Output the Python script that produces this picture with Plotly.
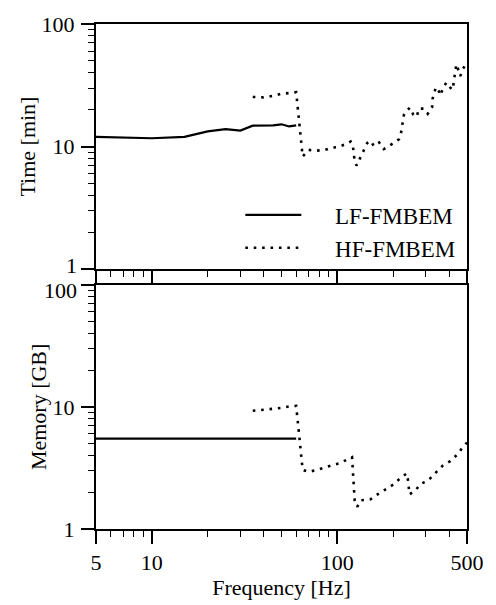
import plotly.graph_objects as go

# Frequency axis samples [Hz] and measured quantities
freq_lf_time = [5, 10, 15, 20, 25, 30, 35, 40, 45, 50, 55, 60]
time_lf = [12.0, 11.7, 12.0, 13.3, 13.9, 13.5, 14.8, 14.8, 14.9, 15.2, 14.6, 14.9]

freq_hf_time = [35, 40, 45, 50, 55, 60, 65, 70, 77, 86, 93, 100, 110, 118, 121, 124,
                127, 133, 139, 145, 152, 157, 168, 178, 193, 204, 215, 222, 225, 229,
                239, 246, 257, 268, 275, 292, 307, 324, 326, 334, 340, 353, 360, 371,
                387, 404, 419, 425, 430, 438, 451, 460, 476, 488, 500]
time_hf = [25.4, 25.2, 25.9, 27.0, 27.3, 27.8, 8.3, 9.4, 9.25, 9.4, 9.8, 9.9, 10.4,
           11.0, 10.4, 7.6, 7.0, 8.05, 9.3, 10.7, 11.1, 10.1, 10.8, 9.55, 10.3, 10.8,
           11.5, 13.5, 15.8, 18.4, 19.8, 20.8, 18.2, 17.5, 20.4, 20.4, 18.5, 20.8,
           24.5, 27.8, 30.5, 28.2, 26.1, 30.0, 33.3, 30.5, 29.1, 34.5, 40.7, 46.9,
           41.5, 37.6, 43.2, 46.0, 47.0]

freq_lf_mem = [5, 10, 20, 30, 40, 50, 60]
mem_lf = [5.5, 5.5, 5.5, 5.5, 5.5, 5.5, 5.5]

freq_hf_mem = [35, 40, 45, 50, 55, 60, 65, 70, 76, 84, 93, 102, 112, 120, 124, 128,
               134, 151, 162, 179, 203, 220, 237, 240, 243, 245, 265, 281, 308, 332,
               368, 407, 442, 486, 500]
mem_hf = [9.3, 9.45, 9.6, 9.8, 10.1, 10.2, 3.05, 2.94, 3.02, 3.18, 3.32, 3.44, 3.70,
          3.87, 1.72, 1.52, 1.72, 1.75, 1.89, 2.07, 2.34, 2.64, 2.85, 2.56, 2.27, 1.92,
          2.09, 2.34, 2.49, 2.81, 3.28, 3.60, 4.06, 4.89, 5.1]

x_major = [5, 10, 100, 500]
x_major_text = ["5", "10", "100", "500"]
x_minor = [6, 7, 8, 9, 20, 30, 40, 50, 60, 70, 80, 90, 200, 300, 400]
y_major = [1, 10, 100]
y_top_text = ["", "10", "100"]      # "1" is placed separately, lifted off the panel join
y_bottom_text = ["1", "10", ""]     # "100" is placed separately, dropped below the join
y_minor = [m * d for d in (1, 10) for m in range(2, 10)]

FONT = "Liberation Serif, Times New Roman, serif"
TICK_FONT = dict(family=FONT, size=22, color="black")
solid = dict(color="black", width=2.2)
dotted = dict(color="black", width=2.6, dash="2.6px,5.8px")
PAD = "\u00a0" * 5

fig = go.Figure()
fig.add_trace(go.Scatter(x=freq_lf_time, y=time_lf, mode="lines", line=solid,
                         name=PAD + "LF-FMBEM", xaxis="x", yaxis="y"))
fig.add_trace(go.Scatter(x=freq_hf_time, y=time_hf, mode="lines", line=dotted,
                         name=PAD + "HF-FMBEM", xaxis="x", yaxis="y"))
fig.add_trace(go.Scatter(x=freq_lf_mem, y=mem_lf, mode="lines", line=solid,
                         showlegend=False, xaxis="x2", yaxis="y2"))
fig.add_trace(go.Scatter(x=freq_hf_mem, y=mem_hf, mode="lines", line=dotted,
                         showlegend=False, xaxis="x2", yaxis="y2"))

axis_common = dict(
    showline=True, linecolor="black", linewidth=2, mirror=True,
    showgrid=False, zeroline=False, ticks="outside", ticklen=13, tickwidth=1.5,
    tickcolor="black", tickfont=TICK_FONT,
)
x_common = dict(axis_common, type="log", range=[0.69897, 2.69897],
                tickmode="array", tickvals=x_major, ticktext=x_major_text,
                minor=dict(tickmode="array", tickvals=x_minor, ticks="outside",
                           ticklen=6, tickwidth=1.2, tickcolor="black"))
y_common = dict(axis_common, type="log", range=[0, 2],
                tickmode="array", tickvals=y_major, ticklabelstandoff=2,
                minor=dict(tickmode="array", tickvals=y_minor, ticks="outside",
                           ticklen=6, tickwidth=1.2, tickcolor="black"))

fig.update_layout(
    width=496, height=605,
    margin=dict(l=96, r=26, t=16, b=72),
    paper_bgcolor="white", plot_bgcolor="white",
    font=dict(family=FONT, size=22, color="black"),
    xaxis=dict(x_common, domain=[0, 1], anchor="y", showticklabels=False),
    yaxis=dict(y_common, domain=[0.5145, 1], anchor="x", ticktext=y_top_text,
               title=dict(text="Time [min]", standoff=0,
                          font=dict(family=FONT, size=22))),
    xaxis2=dict(x_common, domain=[0, 1], anchor="y2", matches="x",
                title=dict(text="Frequency [Hz]", standoff=2,
                           font=dict(family=FONT, size=22))),
    yaxis2=dict(y_common, domain=[0, 0.4836], anchor="x2", ticktext=y_bottom_text,
                title=dict(text="Memory [GB]", standoff=0,
                           font=dict(family=FONT, size=22))),
    legend=dict(x=0.982, y=0.514, xanchor="right", yanchor="bottom",
                bgcolor="rgba(0,0,0,0)", borderwidth=0, itemwidth=56,
                tracegroupgap=0, font=dict(family=FONT, size=23, color="black")),
    showlegend=True,
    annotations=[
        dict(text="1", xref="paper", x=0, xanchor="right", xshift=-17,
             yref="y", y=0, yanchor="middle", yshift=4,
             showarrow=False, font=TICK_FONT),
        dict(text="100", xref="paper", x=0, xanchor="right", xshift=-17,
             yref="y2", y=2, yanchor="middle", yshift=-6,
             showarrow=False, font=TICK_FONT),
    ],
)

fig.write_html("out.html")
